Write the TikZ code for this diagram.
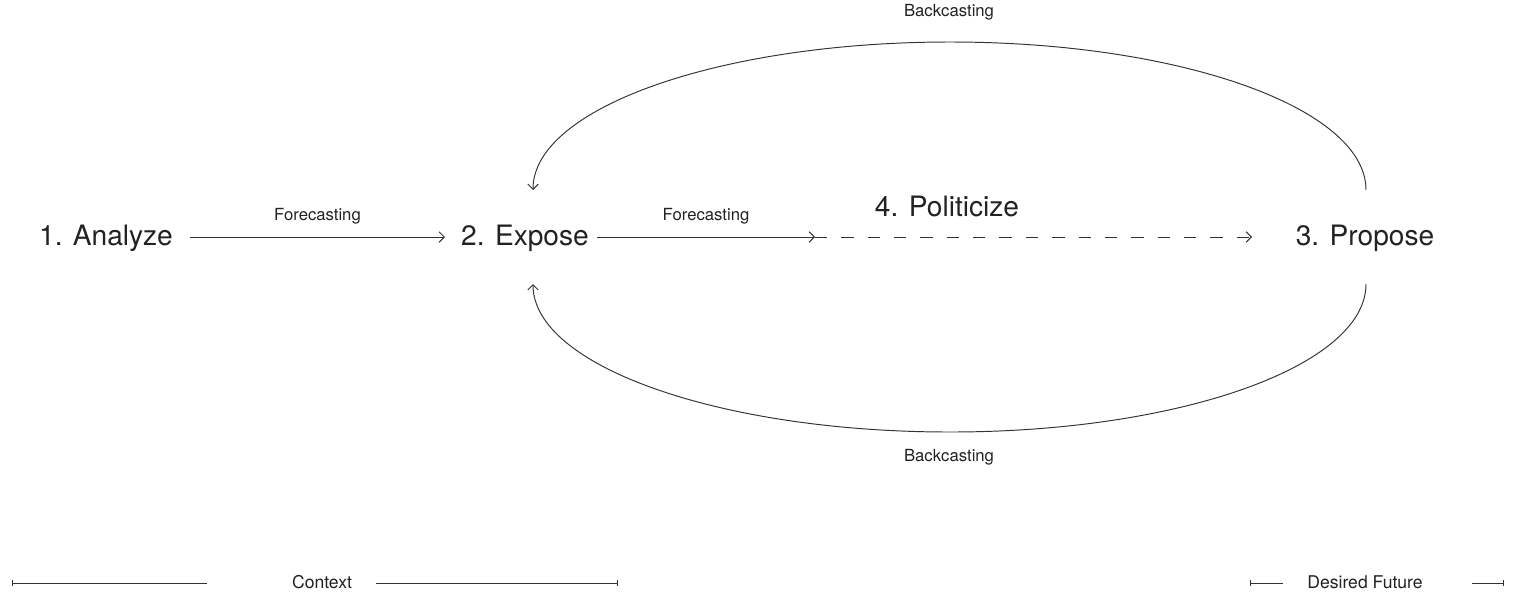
\documentclass[tikz,border=0pt]{standalone}
\usepackage{fontspec}
\setmainfont{TeX Gyre Heros}
\usetikzlibrary{arrows.meta}
\definecolor{ink}{HTML}{222222}
\definecolor{lineink}{HTML}{333333}
\tikzset{
  mainnode/.style={font=\fontsize{16}{18}\selectfont, text=ink, inner xsep=0pt, inner ysep=2pt},
  smalllabel/.style={font=\fontsize{9.5}{11}\selectfont, text=ink, inner sep=1pt},
  conn/.style={draw=lineink, line width=0.55pt, -{Straight Barb[length=3pt,width=6pt]}},
  dashconn/.style={conn, dash pattern=on 7pt off 8pt},
  barline/.style={draw=lineink, line width=0.55pt},
}
\begin{document}
\begin{tikzpicture}[x=0.02cm,y=-0.02cm]
\useasboundingbox (0,0) rectangle (1513,596);
% main nodes
\node[mainnode] (A) at (106,238) {1. Analyze};
\node[mainnode] (E) at (525,238) {2. Expose};
\node[mainnode] (P) at (1365,238) {3. Propose};
\node[mainnode] (Z) at (947,206) {4. Politicize};
% helper coordinates
\coordinate (a1) at (190,237);
\coordinate (e0) at (445,237);
\coordinate (e1) at (597,237);
\coordinate (m) at (815,237);
\coordinate (p0) at (1252,237);
\coordinate (etop) at (533,190);
\coordinate (ebot) at (533,284);
\coordinate (ptop) at (1366,190);
\coordinate (pbot) at (1366,284);
\coordinate (top) at (950,42);
\coordinate (bot) at (950,432);
% forward arrows
\draw[conn] (a1) -- (e0) node[smalllabel, midway, above=6pt] (f1) {Forecasting};
\draw[conn] (e1) -- (m) node[smalllabel, midway, above=6pt] (f2) {Forecasting};
\draw[dashconn] (m) -- (p0);
% backcasting curves
\draw[conn] (ptop) .. controls (1366,108) and (1180,42) .. (top)
             .. controls (720,42) and (533,108) .. (etop);
\draw[conn] (pbot) .. controls (1366,366) and (1180,432) .. (bot)
             .. controls (720,432) and (533,366) .. (ebot);
\node[smalllabel] (b1) at (949,12) {Backcasting};
\node[smalllabel] (b2) at (949,457) {Backcasting};
% bottom scales
\node[smalllabel, font=\fontsize{10}{12}\selectfont] (ctx) at (322,582) {Context};
\node[smalllabel, font=\fontsize{10}{12}\selectfont] (df) at (1365,582) {Desired Future};
\coordinate (c0) at (12,583);
\coordinate (c1) at (207,583);
\coordinate (c2) at (376,583);
\coordinate (c3) at (618,583);
\coordinate (d0) at (1250,583);
\coordinate (d1) at (1283,583);
\coordinate (d2) at (1472,583);
\coordinate (d3) at (1504,583);
\draw[barline, {Bar[width=3.5pt]}-] (c0) -- (c1);
\draw[barline, -{Bar[width=3.5pt]}] (c2) -- (c3);
\draw[barline, {Bar[width=3.5pt]}-] (d0) -- (d1);
\draw[barline, -{Bar[width=3.5pt]}] (d2) -- (d3);
\end{tikzpicture}
\end{document}
